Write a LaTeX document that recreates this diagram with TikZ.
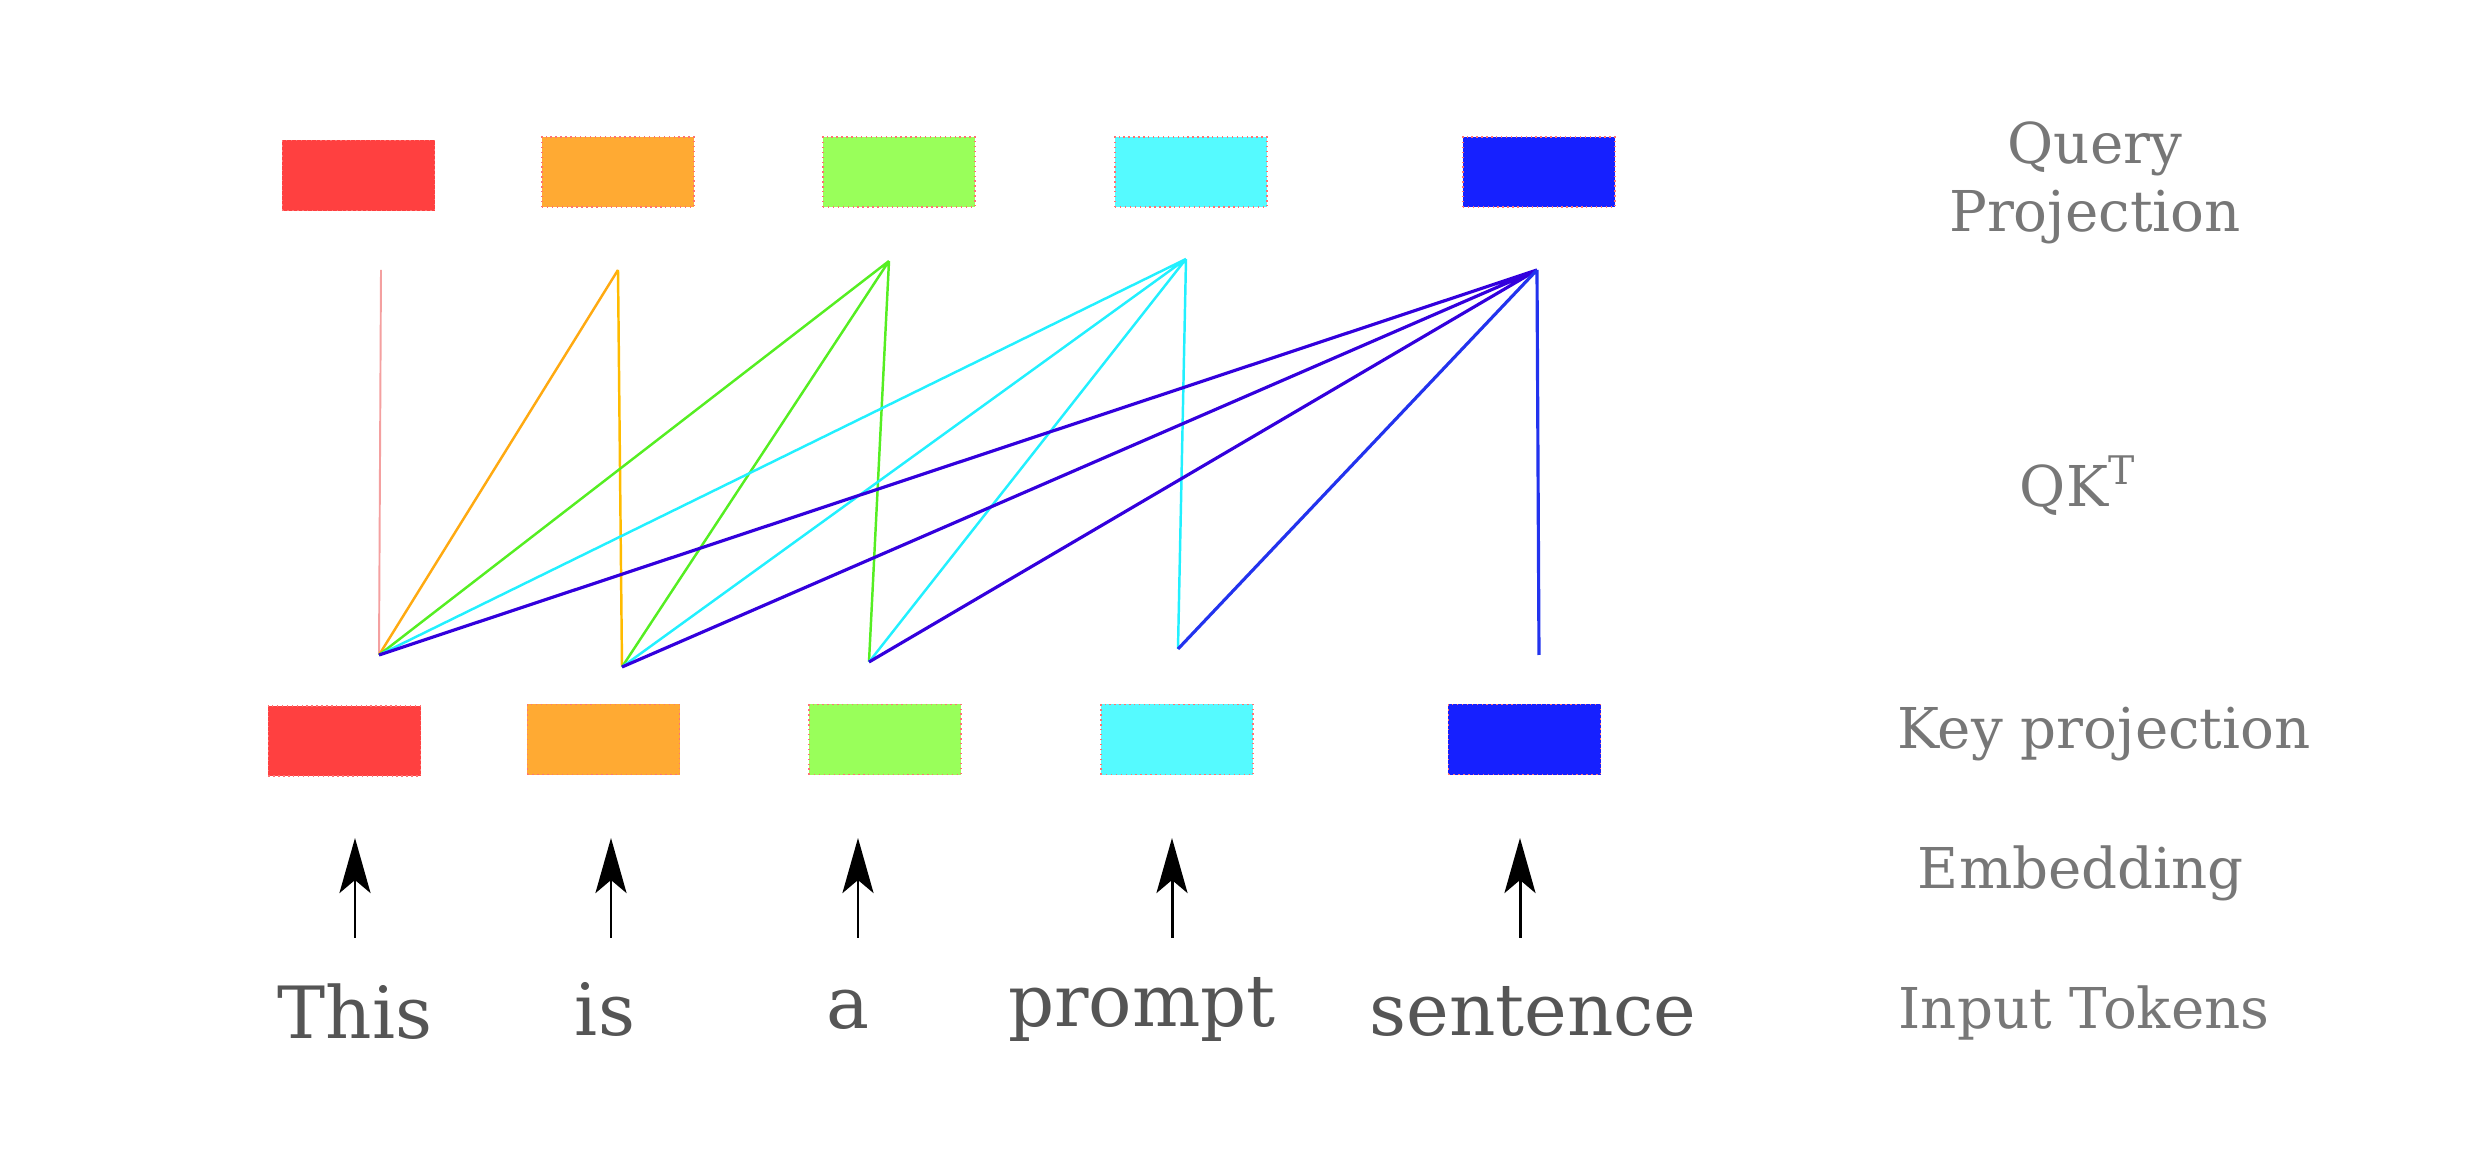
\documentclass[tikz,border=0pt]{standalone}
\usepackage{fontspec}
\setmainfont{DejaVu Serif}
\usepackage{xcolor}
\usetikzlibrary{arrows.meta, positioning}

\definecolor{boxred}{HTML}{FF4040}
\definecolor{boxorange}{HTML}{FFAA33}
\definecolor{boxgreen}{HTML}{99FF5A}
\definecolor{boxcyan}{HTML}{55FAFF}
\definecolor{boxblue}{HTML}{1620FF}
\definecolor{linepink}{HTML}{F4A0A0}
\definecolor{lineorange}{HTML}{FFAA11}
\definecolor{lineyellow}{HTML}{FFBB00}
\definecolor{linegreen}{HTML}{55EE22}
\definecolor{linecyan}{HTML}{22F0FF}
\definecolor{lineviolet}{HTML}{3300DD}
\definecolor{lineblue}{HTML}{2233EE}
\definecolor{labelgray}{HTML}{777777}
\definecolor{tokengray}{HTML}{555555}

\tikzset{
  projbox/.style={draw=red!55, densely dotted, line width=0.4pt,
    minimum width=1.52cm, minimum height=0.7cm, inner sep=0pt},
  rowlabel/.style={text=labelgray, font=\fontsize{16}{19.4}\selectfont, inner sep=0pt},
  token/.style={text=tokengray, font=\fontsize{20.5}{25}\selectfont, inner sep=0pt, anchor=base},
  embarrow/.style={-{Stealth[length=0.55cm, width=0.31cm, inset=0.13cm]}, line width=0.85pt},
  attn/.style={line width=0.7pt},
}

\begin{document}
\begin{tikzpicture}[x=0.01cm, y=-0.01cm]
    \useasboundingbox (0, 0) rectangle (2477, 1158);

    % query projection
    \node[projbox, fill=boxred] (q1) at (358.5, 175.5) {};
    \node[projbox, fill=boxorange] (q2) at (618, 172) {};
    \node[projbox, fill=boxgreen] (q3) at (899, 172) {};
    \node[projbox, fill=boxcyan] (q4) at (1191, 172) {};
    \node[projbox, fill=boxblue] (q5) at (1539, 172) {};

    % key projection
    \node[projbox, fill=boxred] (k1) at (344.5, 741) {};
    \node[projbox, fill=boxorange] (k2) at (603.5, 739.5) {};
    \node[projbox, fill=boxgreen] (k3) at (885, 739.5) {};
    \node[projbox, fill=boxcyan] (k4) at (1177, 739.5) {};
    \node[projbox, fill=boxblue] (k5) at (1524.5, 739.5) {};

    % ends of the QK^T lines
    \coordinate (qa1) at (381, 270);
    \coordinate (qa2) at (618, 270);
    \coordinate (qa3) at (889, 261);
    \coordinate (qa4) at (1186, 259);
    \coordinate (qa5) at (1537, 270);
    \coordinate (ka1) at (379, 655);
    \coordinate (ka2) at (622, 667);
    \coordinate (ka3) at (869, 662);
    \coordinate (ka4) at (1178, 649);
    \coordinate (ka5) at (1539, 655);

    \draw[attn, linepink, line width=0.55pt] (qa1) -- (ka1);
    \draw[attn, lineorange] (qa2) -- (ka1);
    \draw[attn, lineyellow] (qa2) -- (ka2);
    \draw[attn, linegreen]
    (qa3) -- (ka1)
    (qa3) -- (ka2)
    (qa3) -- (ka3);
    \draw[attn, linecyan]
    (qa4) -- (ka1)
    (qa4) -- (ka2)
    (qa4) -- (ka3)
    (qa4) -- (ka4);
    \draw[attn, lineviolet, line width=0.9pt]
    (qa5) -- (ka1)
    (qa5) -- (ka2)
    (qa5) -- (ka3);
    \draw[attn, lineblue, line width=0.9pt]
    (qa5) -- (ka4)
    (qa5) -- (ka5);

    % input tokens
    \node[token] (t1) at (355, 1038) {This};
    \node[token] (t2) at (605, 1036) {is};
    \node[token] (t3) at (848, 1028) {a};
    \node[token] (t4) at (1142, 1027) {prompt};
    \node[token] (t5) at (1533, 1035) {sentence};

    % embedding arrows
    \coordinate (eb1) at (355, 938);
    \coordinate (et1) at (355, 838);
    \coordinate (eb2) at (611, 938);
    \coordinate (et2) at (611, 838);
    \coordinate (eb3) at (858, 938);
    \coordinate (et3) at (858, 838);
    \coordinate (eb4) at (1172, 938);
    \coordinate (et4) at (1172, 838);
    \coordinate (eb5) at (1520, 938);
    \coordinate (et5) at (1520, 838);
    \draw[embarrow] (eb1) -- (et1);
    \draw[embarrow] (eb2) -- (et2);
    \draw[embarrow] (eb3) -- (et3);
    \draw[embarrow] (eb4) -- (et4);
    \draw[embarrow] (eb5) -- (et5);

    % row labels
    \node[rowlabel, align=center] (lquery) at (2095, 183) {Query\\Projection};
    \node[rowlabel, anchor=base] (lqk) at (2078, 507) {QK\textsuperscript{T}};
    \node[rowlabel, anchor=base] (lkey) at (2104, 749) {Key projection};
    \node[rowlabel, anchor=base] (lemb) at (2081, 889) {Embedding};
    \node[rowlabel, anchor=base] (linput) at (2084, 1028) {Input Tokens};
\end{tikzpicture}
\end{document}
